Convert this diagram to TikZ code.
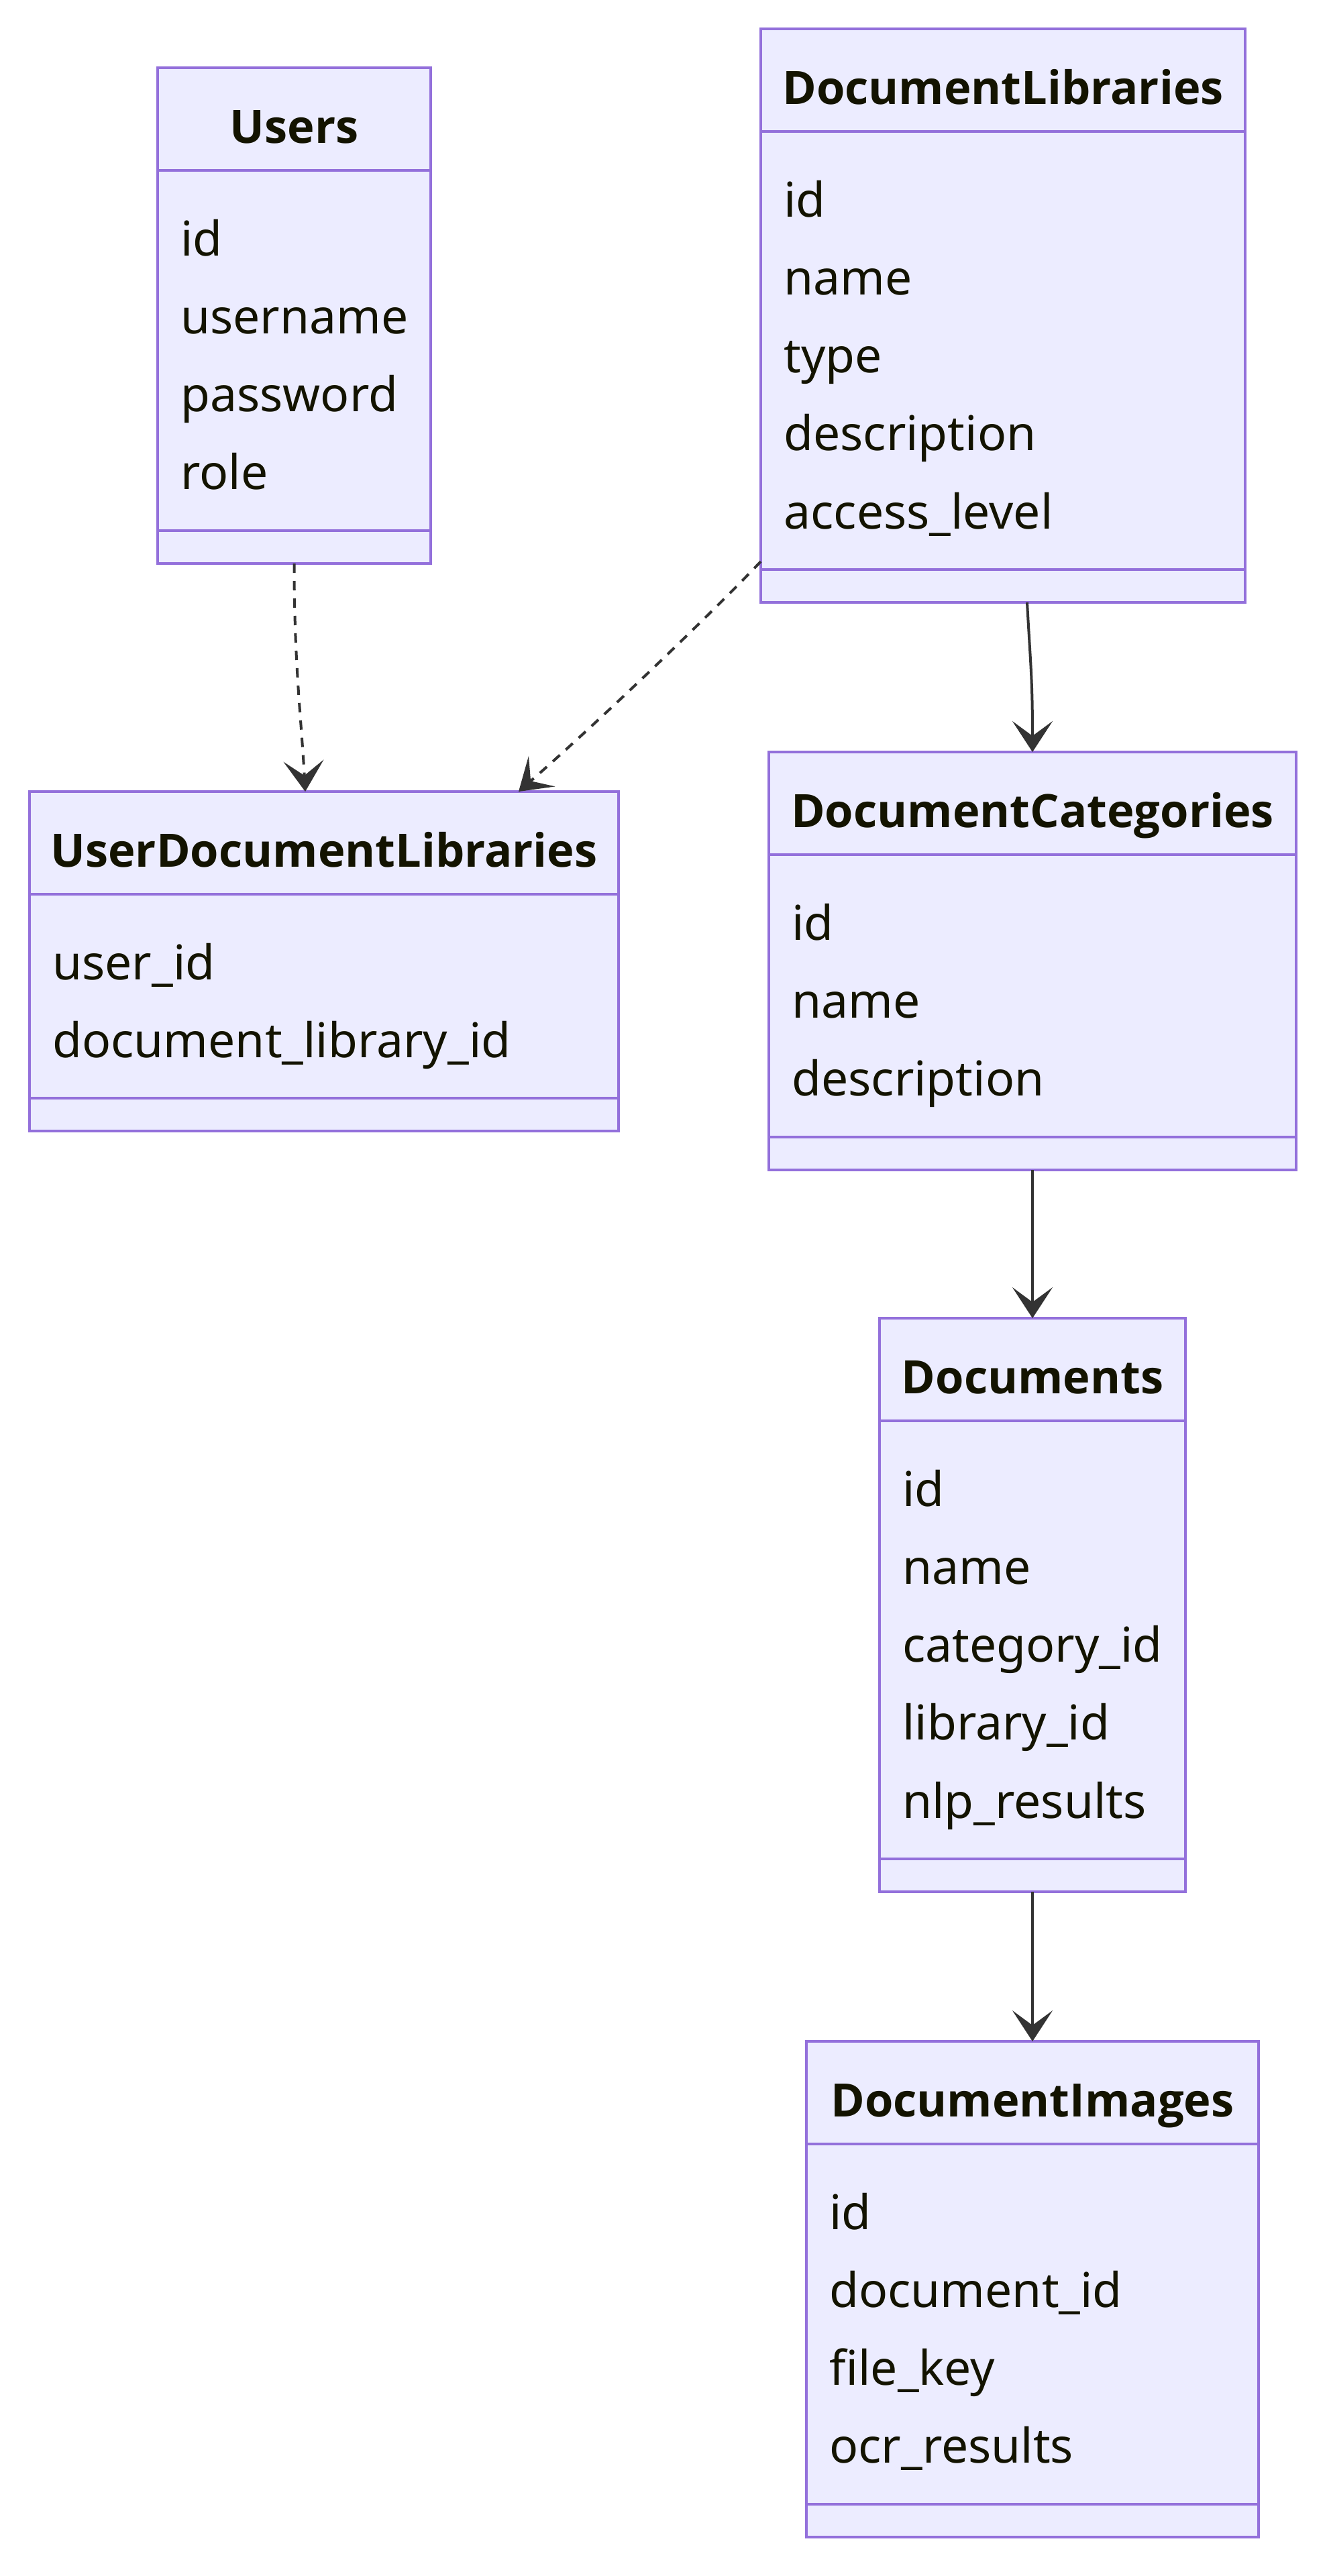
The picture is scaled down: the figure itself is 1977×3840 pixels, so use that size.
\documentclass[tikz,border=0pt]{standalone}
\usepackage{fontspec}
\setmainfont{Noto Sans}
\IfFontExistsTF{NotoSans-Bold.ttf}{\newfontfamily\titlefont{NotoSans-Bold.ttf}}{%
 \IfFontExistsTF{NotoSans-Bold.otf}{\newfontfamily\titlefont{NotoSans-Bold.otf}}{%
  \IfFontExistsTF{Open Sans Bold}{\newfontfamily\titlefont{Open Sans Bold}}{%
   \newfontfamily\titlefont{Noto Sans}[FakeBold=2.5]}}}
\usetikzlibrary{arrows.meta,calc}
\definecolor{boxborder}{HTML}{9370DB}
\definecolor{boxfill}{HTML}{ECECFF}
\definecolor{txt}{HTML}{131300}
\definecolor{edge}{HTML}{333333}
\tikzset{
 classbox/.style={draw=boxborder, fill=boxfill, line width=2pt, inner sep=0pt, outer sep=0pt},
 divider/.style={draw=boxborder, line width=2pt},
 titletext/.style={anchor=base, text=txt, font=\titlefont\fontsize{34.3}{41}\selectfont, inner sep=0pt},
 itemtext/.style={anchor=base west, text=txt, font=\fontsize{35.7}{43}\selectfont, inner sep=0pt},
 rel/.style={draw=edge, line width=2pt, -{Stealth[length=23pt,width=30pt,inset=11pt]}},
 dep/.style={rel, dash pattern=on 7pt off 6pt},
}
\newcommand{\umlclass}[7]{%
  \node[classbox, minimum width={(#4-#2)*0.5pt}, minimum height={(#5-#3)*0.5pt}] (#1) at ({(#2+#4)/2},{(#3+#5)/2}) {};
  \draw[divider] ($(#1.north west)+(0,153)$) -- ($(#1.north east)+(0,153)$);
  \draw[divider] ($(#1.south west)+(0,-49)$) -- ($(#1.south east)+(0,-49)$);
  \node[titletext] (#1-title) at ($(#1.north)+(0,112)$) {#6};
  \foreach \t [count=\i] in {#7} {
    \node[itemtext] (#1-item\i) at ($(#1.north west)+(34,{280+(\i-1)*116.3})$) {\t};
  }
}
\begin{document}
\begin{tikzpicture}[x=0.5pt,y=-0.5pt]
\useasboundingbox (0,0) rectangle (1977,3840);
\fill[white] (0,0) rectangle (1977,3840);
\umlclass{users}{235}{101}{642}{840}{Users}{id,username,password,role}
\umlclass{doclib}{1134}{43}{1856}{898}{DocumentLibraries}{id,name,type,description,access\_level}
\umlclass{udl}{44}{1180}{922}{1686}{UserDocumentLibraries}{user\_id,document\_library\_id}
\umlclass{doccat}{1146}{1121}{1932}{1744}{DocumentCategories}{id,name,description}
\umlclass{docs}{1311}{1965}{1767}{2820}{Documents}{id,name,category\_id,library\_id,nlp\_results}
\umlclass{docimg}{1202}{3043}{1876}{3782}{DocumentImages}{id,document\_id,file\_key,ocr\_results}
\draw[dep] (users.south) .. controls ($(users.south)+(0,150)$) and ($(udl.north west)+(405,-110)$) .. ($(udl.north west)+(411,0)$);
\draw[dep] ($(doclib.north west)+(0,794)$) .. controls ($(doclib.north west)+(-74,872)$) and ($(udl.north west)+(846,-102)$) .. ($(udl.north west)+(729,0)$);
\draw[rel] ($(doclib.south)+(36,0)$) .. controls ($(doclib.south)+(41,92)$) and ($(doccat.north)+(0,-111)$) .. (doccat.north);
\draw[rel] (doccat.south) -- (docs.north);
\draw[rel] (docs.south) -- (docimg.north);
\end{tikzpicture}
\end{document}
